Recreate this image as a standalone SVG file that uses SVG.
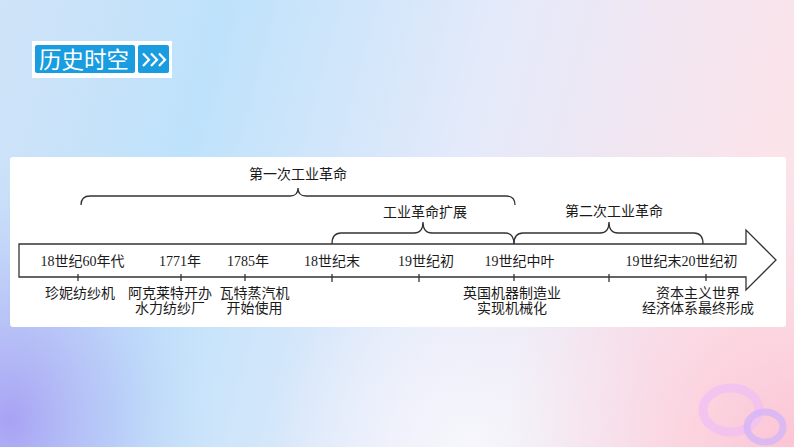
<svg xmlns="http://www.w3.org/2000/svg" width="794" height="447" viewBox="0 0 794 447">
<defs>
<linearGradient id="bg" x1="0" y1="0" x2="1" y2="0.15">
<stop offset="0" stop-color="#d0e3f8"/>
<stop offset="0.28" stop-color="#bee2fb"/>
<stop offset="0.62" stop-color="#e4eafa"/>
<stop offset="1" stop-color="#fbe3ea"/>
</linearGradient>
<radialGradient id="purp" cx="10" cy="420" r="230" gradientUnits="userSpaceOnUse" gradientTransform="translate(10,420) scale(0.9,1.2) translate(-10,-420)">
<stop offset="0" stop-color="#a8a2f4" stop-opacity="1"/>
<stop offset="0.5" stop-color="#b4bdf6" stop-opacity="0.6"/>
<stop offset="1" stop-color="#c8dcf8" stop-opacity="0"/>
</radialGradient>
<radialGradient id="pink" cx="794" cy="447" r="290" gradientUnits="userSpaceOnUse">
<stop offset="0" stop-color="#fcc4d4" stop-opacity="1"/>
<stop offset="1" stop-color="#fbd8e4" stop-opacity="0"/>
</radialGradient>
<radialGradient id="white" cx="470" cy="447" r="200" gradientUnits="userSpaceOnUse">
<stop offset="0" stop-color="#f6f6fc" stop-opacity="1"/>
<stop offset="1" stop-color="#f6f6fc" stop-opacity="0"/>
</radialGradient>
<style>
.ln{fill:none;stroke:#333;stroke-width:1.3}
.tk{stroke:#333;stroke-width:1.3}
.t{font-family:"Liberation Serif","Noto Sans CJK SC",serif;font-size:14px;fill:#1a1a1a;text-anchor:middle}
</style>
</defs>
<rect x="0" y="0" width="794" height="447" fill="url(#bg)"/>
<rect x="0" y="0" width="794" height="447" fill="url(#white)"/>
<rect x="0" y="0" width="794" height="447" fill="url(#purp)"/>
<rect x="0" y="0" width="794" height="447" fill="url(#pink)"/>
<g id="rings" fill="none">
<ellipse cx="731" cy="410" rx="28" ry="22" stroke="#f0bff4" stroke-width="9" opacity="0.75"/>
<ellipse cx="765" cy="427" rx="18" ry="15" stroke="#d6b6f6" stroke-width="7" opacity="0.85"/>
</g>
<g id="header">
<rect x="32" y="41" width="140" height="37" fill="#ffffff"/>
<rect x="35" y="45" width="100" height="28" rx="2" fill="#1a9de0"/>
<rect x="138" y="45" width="31" height="28" rx="2" fill="#1a9de0"/>
<text x="84" y="68" font-family="'Noto Sans CJK SC',sans-serif" font-size="22.5" fill="#fff" text-anchor="middle">历史时空</text>
<g fill="none" stroke="#fff" stroke-width="2.2">
<polyline points="143,53.5 149,59.7 143,66"/>
<polyline points="151,53.5 157,59.7 151,66"/>
<polyline points="159,53.5 165,59.7 159,66"/>
</g>
</g>
<rect id="panel" x="10" y="157" width="776" height="170" rx="3" fill="#ffffff"/>
<g id="connectors">
<path class="ln" d="M19,244 L746,244 L746,230 L776,260 L746,290 L746,277 L19,277 Z"/>
<g class="tk">
<line x1="78" y1="274" x2="78" y2="281"/>
<line x1="181" y1="274" x2="181" y2="281"/>
<line x1="245" y1="274" x2="245" y2="281"/>
<line x1="332" y1="274" x2="332" y2="282"/>
<line x1="419" y1="274" x2="419" y2="282"/>
<line x1="514" y1="274" x2="514" y2="281"/>
<line x1="609" y1="274" x2="609" y2="282"/>
<line x1="706" y1="274" x2="706" y2="281"/>
</g>
<path class="ln" d="M81,205 Q81,196 90,196 L290,196 Q298,196 298,188 Q298,196 306,196 L506,196 Q515,196 515,205"/>
<path class="ln" d="M332,244 Q332,233 341,233 L414,233 Q423,233 423,222 Q423,233 432,233 L505,233 Q514,233 514,244"/>
<path class="ln" d="M514,244 Q514,233 523,233 L600,233 Q609,233 609,222 Q609,233 618,233 L694,233 Q703,233 703,244"/>
</g>
<g id="brace-labels">
<text class="t" x="298" y="179">第一次工业革命</text>
<text class="t" x="425" y="217">工业革命扩展</text>
<text class="t" x="614" y="215.5">第二次工业革命</text>
</g>
<g id="n1"><text class="t" x="82.5" y="266">18世纪60年代</text><text class="t" x="80" y="297.5">珍妮纺纱机</text></g>
<g id="n2"><text class="t" x="180" y="266">1771年</text><text class="t" x="170" y="297.5">阿克莱特开办</text><text class="t" x="170" y="312.5">水力纺纱厂</text></g>
<g id="n3"><text class="t" x="248" y="266">1785年</text><text class="t" x="254.5" y="297.5">瓦特蒸汽机</text><text class="t" x="254.5" y="312.5">开始使用</text></g>
<g id="n4"><text class="t" x="332" y="266">18世纪末</text></g>
<g id="n5"><text class="t" x="426" y="266">19世纪初</text></g>
<g id="n6"><text class="t" x="519.5" y="266">19世纪中叶</text><text class="t" x="512" y="297.5">英国机器制造业</text><text class="t" x="512" y="312.5">实现机械化</text></g>
<g id="n7"><text class="t" x="681.5" y="266">19世纪末20世纪初</text><text class="t" x="698" y="297.5">资本主义世界</text><text class="t" x="698" y="312.5">经济体系最终形成</text></g>
</svg>
